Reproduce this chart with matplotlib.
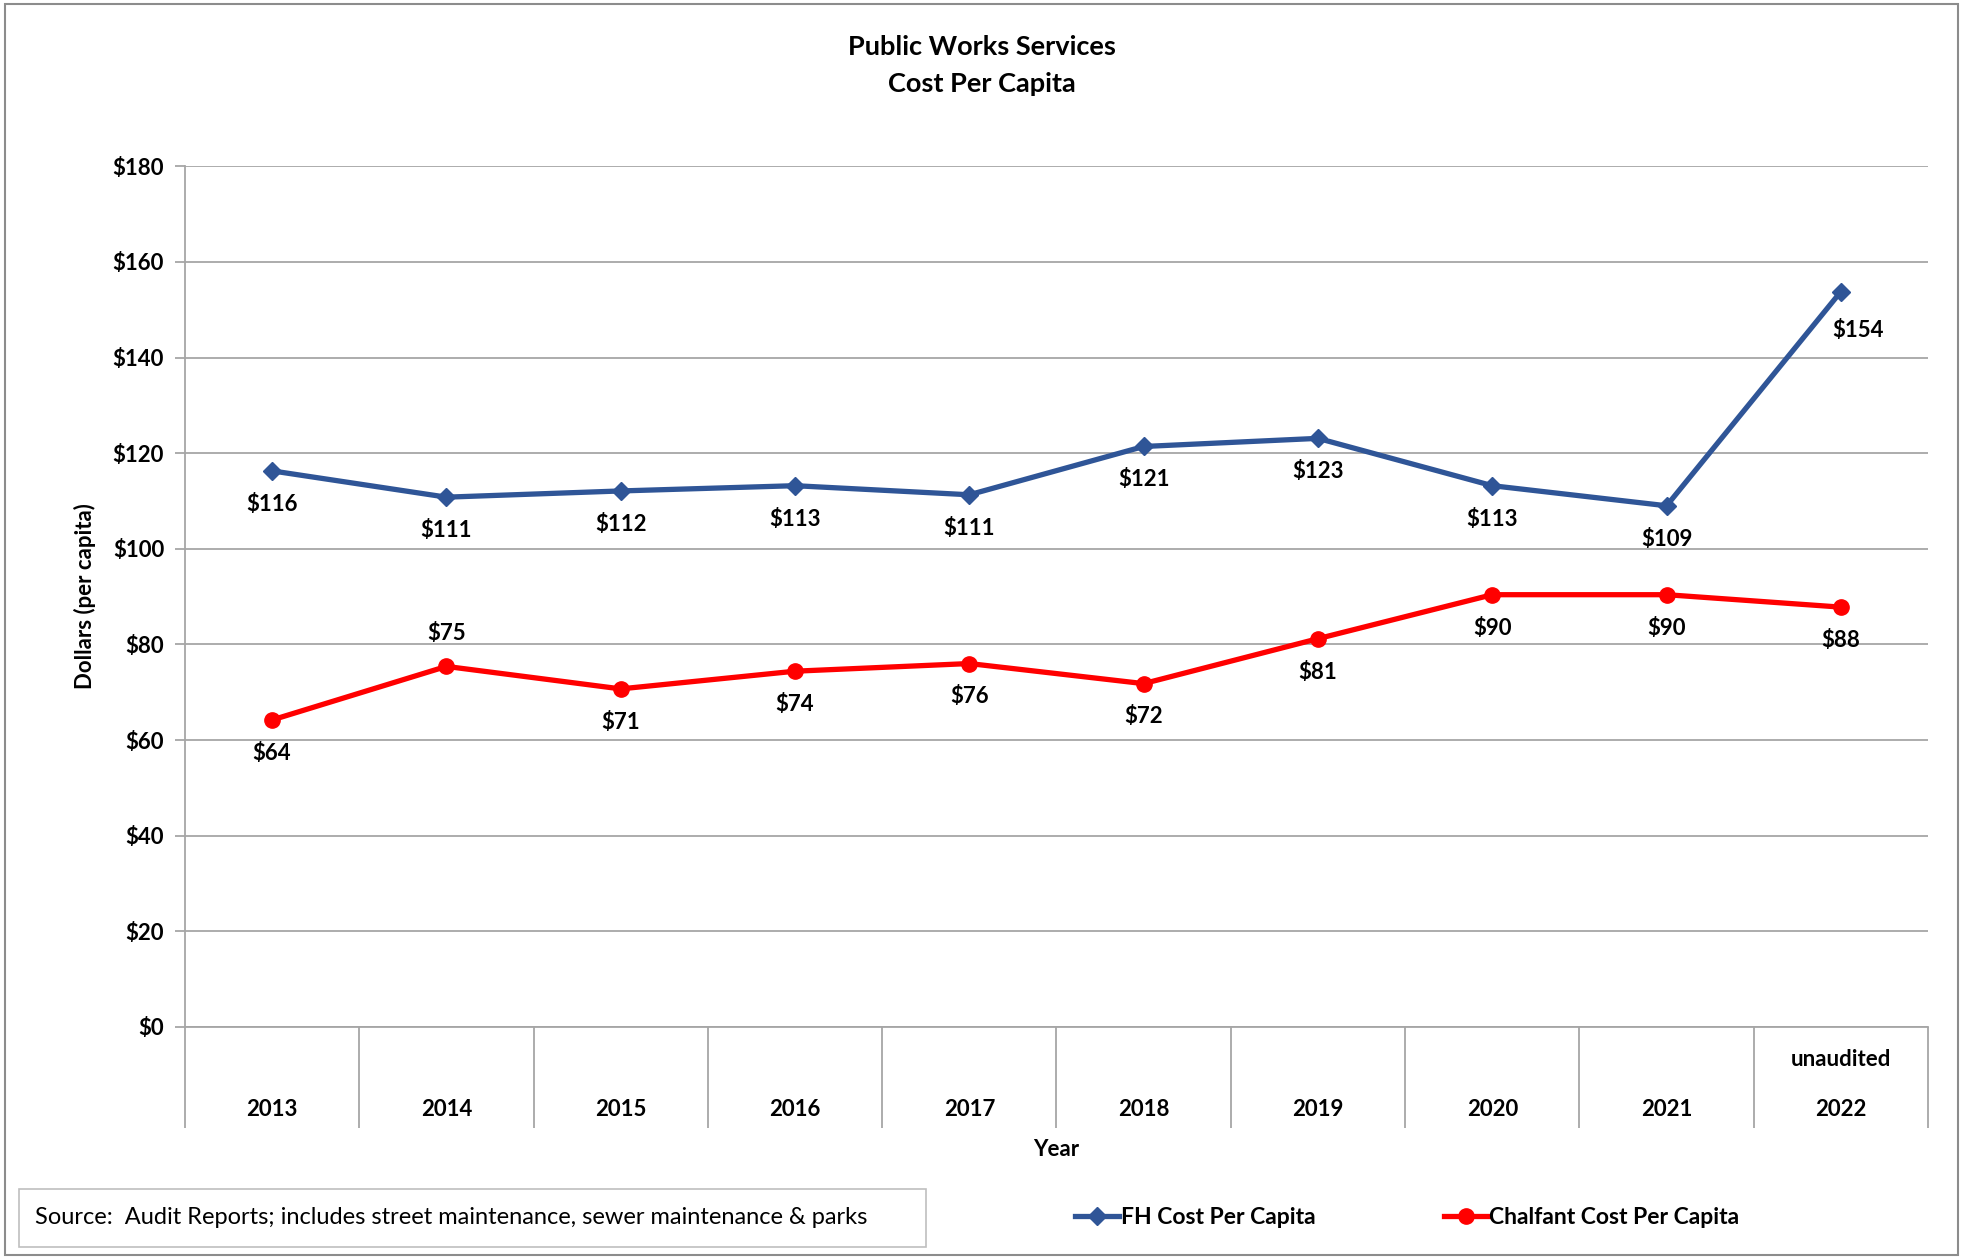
import matplotlib.pyplot as plt
from matplotlib.patches import Rectangle
from matplotlib.lines import Line2D
import matplotlib.transforms as mtransforms

plt.rcParams['font.family'] = ['Lato', 'DejaVu Sans']

years = ['2013', '2014', '2015', '2016', '2017', '2018', '2019', '2020', '2021', '2022']
notes = ['', '', '', '', '', '', '', '', '', 'unaudited']
fh_cost = [116.3, 110.8, 112.1, 113.2, 111.3, 121.4, 123.1, 113.2, 109.0, 153.8]
chalfant_cost = [64.2, 75.4, 70.7, 74.4, 76.0, 71.8, 81.2, 90.4, 90.4, 87.8]

blue = '#2F5597'
red = '#FF0000'
grey = '#A6A6A6'

fig = plt.figure(figsize=(19.63, 12.6), dpi=100)
ax = fig.add_axes([0.0942, 0.185, 0.888, 0.683])

x = list(range(len(years)))
ax.plot(x, fh_cost, color=blue, lw=3.8, marker='D', ms=9, zorder=3)
ax.plot(x, chalfant_cost, color=red, lw=3.8, marker='o', ms=11, zorder=3)

# data labels
fh_off = [(0, -24)] * 9 + [(12, -28)]
ch_off = [(0, -24), (0, 24)] + [(0, -24)] * 8
for i, v in enumerate(fh_cost):
    ax.annotate('${:.0f}'.format(v), (i, v), xytext=fh_off[i], textcoords='offset points',
                ha='center', va='center', fontsize=16, fontweight='bold')
for i, v in enumerate(chalfant_cost):
    ax.annotate('${:.0f}'.format(v), (i, v), xytext=ch_off[i], textcoords='offset points',
                ha='center', va='center', fontsize=16, fontweight='bold')

ax.set_xlim(-0.5, len(years) - 0.5)
ax.set_ylim(0, 180)
ax.set_yticks(range(0, 181, 20))
ax.set_yticklabels(['${}'.format(t) for t in range(0, 181, 20)], fontsize=16, fontweight='bold')
ax.yaxis.grid(True, color=grey, lw=1.3)
ax.tick_params(axis='y', length=7, color=grey, width=1.3, pad=8)

# category boxes under the axis
ax.set_xticks([i - 0.5 for i in range(len(years) + 1)])
ax.set_xticklabels([])
ax.tick_params(axis='x', length=73, color=grey, width=1.3)
trans = mtransforms.blended_transform_factory(ax.transData, ax.transAxes)
for i, yr in enumerate(years):
    ax.text(i, -0.0964, yr, transform=trans, ha='center', va='center', fontsize=16, fontweight='bold')
    if notes[i]:
        ax.text(i, -0.0383, notes[i], transform=trans, ha='center', va='center', fontsize=16, fontweight='bold')

for s in ['top', 'right']:
    ax.spines[s].set_visible(False)
for s in ['left', 'bottom']:
    ax.spines[s].set_color(grey)
    ax.spines[s].set_linewidth(1.3)

fig.text(0.0433, 0.527, 'Dollars (per capita)', rotation=90, ha='center', va='center',
         fontsize=16, fontweight='bold')
fig.text(0.538, 0.088, 'Year', ha='center', va='center', fontsize=16, fontweight='bold')
fig.text(0.5, 0.963, 'Public Works Services', ha='center', va='center', fontsize=19.5, fontweight='bold')
fig.text(0.5, 0.933, 'Cost Per Capita', ha='center', va='center', fontsize=19.5, fontweight='bold')

# legend
handles = [Line2D([], [], color=blue, lw=3.8, marker='D', ms=9),
           Line2D([], [], color=red, lw=3.8, marker='o', ms=11)]
fig.legend(handles, ['FH Cost Per Capita', 'Chalfant Cost Per Capita'], loc='center left',
           bbox_to_anchor=(0.537, 0.034), ncol=2, frameon=False, handlelength=1.95,
           handletextpad=0.05, columnspacing=5.6, prop={'size': 16.5, 'weight': 'bold'})

# source box
fig.patches.append(Rectangle((0.0097, 0.0103), 0.462, 0.046, transform=fig.transFigure,
                             fill=False, edgecolor='#BFBFBF', lw=1.2))
fig.text(0.0178, 0.034, 'Source:  Audit Reports; includes street maintenance, sewer maintenance & parks',
         ha='left', va='center', fontsize=17)

# outer border
fig.patches.append(Rectangle((0.0025, 0.004), 0.995, 0.993, transform=fig.transFigure,
                             fill=False, edgecolor='#8C8C8C', lw=1.5))

plt.savefig('out.png', dpi=100)
